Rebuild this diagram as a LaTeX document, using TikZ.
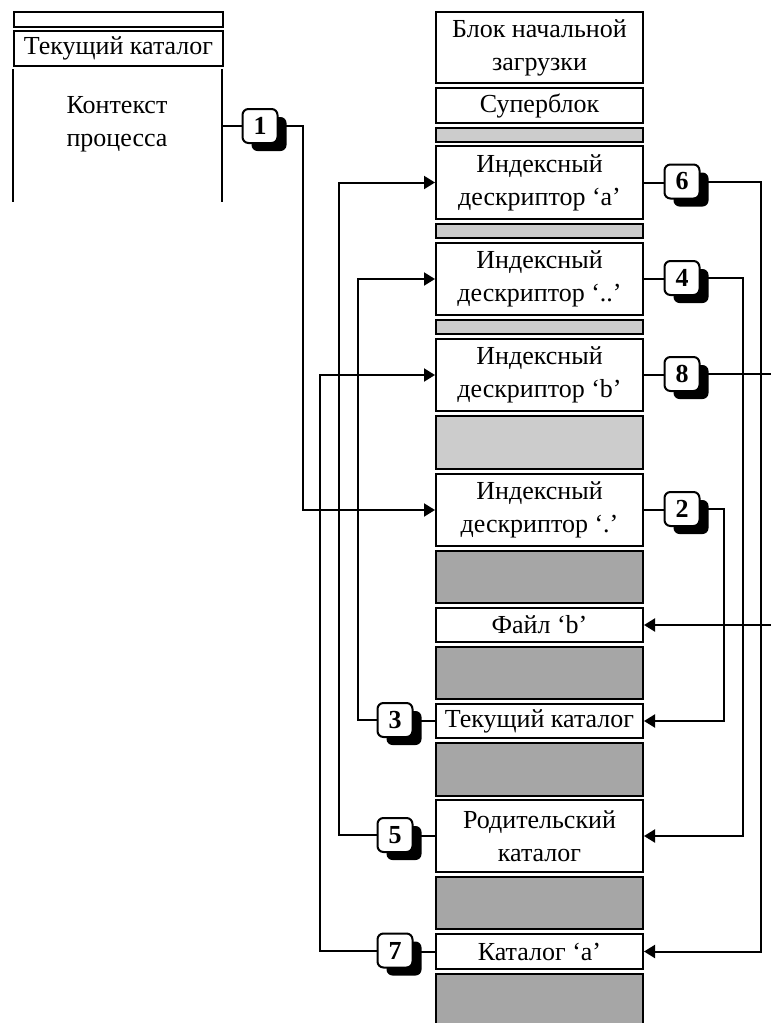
\documentclass[tikz,border=0pt]{standalone}
\usepackage{fontspec}
\setmainfont{Liberation Serif}
\usetikzlibrary{arrows.meta,shadows}
\definecolor{lg}{HTML}{CCCCCC}
\definecolor{dg}{HTML}{A6A6A6}
\tikzset{
  blk/.style={draw, line width=2pt, inner sep=0pt, align=center,
    font=\fontsize{26}{33}\selectfont},
  ln/.style={line width=2pt},
  arr/.style={ln, -{Triangle[length=11pt,width=13pt]}},
  badge/.style={draw, line width=2pt, rounded corners=6pt, fill=white,
    minimum width=35pt, minimum height=34pt, inner sep=0pt,
    font=\bfseries\fontsize{26}{26}\selectfont,
    drop shadow={shadow xshift=9pt, shadow yshift=-8pt, opacity=1, fill=black}},
  ctxt/.style={align=center, inner sep=0pt, font=\fontsize{26}{33}\selectfont}
}
% #2,#3 = outer top / bottom edges
\newcommand\cellbox[5]{\node[blk, fill=#4, minimum width=207pt,
  minimum height={#3pt-#2pt-2pt}, anchor=north west] (#1) at (435,#2+1) {#5};}
\begin{document}
\begin{tikzpicture}[x=1pt,y=-1pt]
\useasboundingbox (0,0) rectangle (771,1023);
% left block
\node[blk, minimum width=209pt, minimum height=15pt, anchor=north west] (ltop) at (13,11) {};
\node[blk, minimum width=209pt, minimum height=35pt, anchor=north west] (lcur) at (13,30) {Текущий каталог};
\draw[ln] (13,69) -- (13,202);
\draw[ln] (222,69) -- (222,202);
\node[ctxt] (ctx) at (117,124) {Контекст\\процесса};
\coordinate (ctxr) at (222,126);
% central column
\cellbox{boot}{10}{83}{white}{Блок начальной\\загрузки}
\cellbox{sup}{86}{123}{white}{Суперблок}
\cellbox{g1}{126}{142}{lg}{}
\cellbox{ia}{144}{219}{white}{Индексный\\дескриптор ‘a’}
\cellbox{g2}{222}{238}{lg}{}
\cellbox{idd}{241}{315}{white}{Индексный\\дескриптор ‘..’}
\cellbox{g3}{318}{334}{lg}{}
\cellbox{ib}{337}{411}{white}{Индексный\\дескриптор ‘b’}
\cellbox{g4}{414}{469}{lg}{}
\cellbox{idot}{472}{546}{white}{Индексный\\дескриптор ‘.’}
\cellbox{d1}{549}{603}{dg}{}
\cellbox{fb}{606}{642}{white}{Файл ‘b’}
\cellbox{d2}{645}{699}{dg}{}
\cellbox{cur}{702}{738}{white}{Текущий каталог}
\cellbox{d3}{741}{796}{dg}{}
\cellbox{par}{798}{872}{white}{Родительский\\каталог}
\cellbox{d4}{875}{929}{dg}{}
\cellbox{ca}{932}{969}{white}{Каталог ‘a’}
\cellbox{d5}{972}{1032}{dg}{}
% badges
\node[badge] (b1) at (260,126) {1};
\node[badge] (b6) at (682,181.5) {6};
\node[badge] (b4) at (682,278) {4};
\node[badge] (b8) at (682,374) {8};
\node[badge] (b2) at (682,509) {2};
\node[badge] (b3) at (395,720) {3};
\node[badge] (b5) at (395,835) {5};
\node[badge] (b7) at (395,950.5) {7};
\coordinate (redge) at (773,0);
% connectors
\draw[ln] (ctxr) -- (ctxr -| b1.west);
\draw[arr] (b1.east) -- ++(24,0) |- (idot.west);
\draw[ln] (ia.east) -- (ia.east -| b6.west);
\draw[arr] (b6.east) -- ++(60,0) |- (ca.east);
\draw[ln] (idd.east) -- (idd.east -| b4.west);
\draw[arr] (b4.east) -- ++(42,0) |- (par.east);
\draw[ln] (ib.east) -- (ib.east -| b8.west);
\draw[ln] (b8.east) -- (redge |- b8.east);
\draw[arr] (redge |- fb.east) -- (fb.east);
\draw[ln] (idot.east) -- (idot.east -| b2.west);
\draw[arr] (b2.east) -- ++(23,0) |- (cur.east);
\draw[ln] (cur.west -| b3.east) -- (cur.west);
\draw[arr] (b3.west) -- ++(-19,0) |- (idd.west);
\draw[ln] (par.west -| b5.east) -- (par.west);
\draw[arr] (b5.west) -- ++(-38,0) |- (ia.west);
\draw[ln] (ca.west -| b7.east) -- (ca.west);
\draw[arr] (b7.west) -- ++(-57,0) |- (ib.west);
\end{tikzpicture}
\end{document}
